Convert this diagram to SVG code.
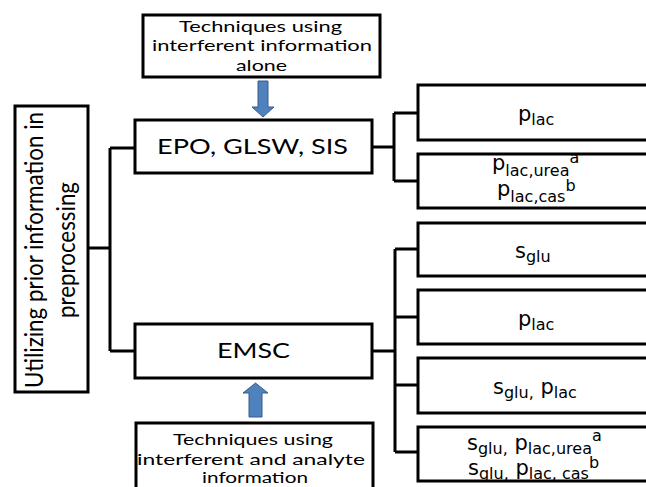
<svg xmlns="http://www.w3.org/2000/svg" width="646" height="487" viewBox="0 0 646 487">
<defs>
<style>
.box{fill:#fff;stroke:#000;stroke-width:3}
.con{fill:none;stroke:#000;stroke-width:3}
.arr{fill:#4F81BD;stroke:#385D8A;stroke-width:1}
.t{font-family:Lato,"Liberation Sans",sans-serif;fill:#000;text-anchor:middle}
.t16{font-size:16px}
.t22{font-size:22px}
.t25{font-size:25px}
.r{font-family:"DejaVu Sans","Liberation Sans",sans-serif;fill:#000}
.m{font-size:21px}
.s{font-size:16px}
</style>
</defs>
<rect width="646" height="487" fill="#fff"/>
<g id="connectors">
<path class="con" d="M88,248H110M110,148V351M110,148H135M110,351H135"/>
<path class="con" d="M372,147H394M394,113V181M394,113H418M394,181H418"/>
<path class="con" d="M372,351H395M395,249V452M395,249H418M395,317H418M395,385H418M395,452H418"/>
</g>
<g id="root">
<rect class="box" x="15" y="106" width="73" height="286"/>
<text class="t t25" transform="translate(43,250) rotate(-90)" textLength="276" lengthAdjust="spacingAndGlyphs">Utilizing prior information in</text>
<text class="t t25" transform="translate(75,250) rotate(-90)" textLength="136" lengthAdjust="spacingAndGlyphs">preprocessing</text>
</g>
<g id="top-techniques">
<rect class="box" x="143" y="15" width="237" height="62"/>
<text class="t t16" x="260.5" y="32" textLength="163" lengthAdjust="spacingAndGlyphs">Techniques using</text>
<text class="t t16" x="262" y="51" textLength="220" lengthAdjust="spacingAndGlyphs">interferent information</text>
<text class="t t16" x="261.5" y="71" textLength="51" lengthAdjust="spacingAndGlyphs">alone</text>
</g>
<g id="top-arrow">
<path class="arr" d="M258,81H268V107H274L263,117L252,107H258Z"/>
</g>
<g id="epo">
<rect class="box" x="135" y="120" width="237" height="53"/>
<text class="t t22" x="252.5" y="154" textLength="191" lengthAdjust="spacingAndGlyphs">EPO, GLSW, SIS</text>
</g>
<g id="emsc">
<rect class="box" x="135" y="324" width="237" height="54"/>
<text class="t t22" x="253.5" y="358" textLength="73" lengthAdjust="spacingAndGlyphs">EMSC</text>
</g>
<g id="bottom-arrow">
<path class="arr" d="M249,417V393H243L255.5,383L268,393H262V417Z"/>
</g>
<g id="bottom-techniques">
<rect class="box" x="136" y="423" width="237" height="80"/>
<text class="t t16" x="253" y="445" textLength="160" lengthAdjust="spacingAndGlyphs">Techniques using</text>
<text class="t t16" x="251" y="465" textLength="228" lengthAdjust="spacingAndGlyphs">interferent and analyte</text>
<text class="t t16" x="255" y="483" textLength="106" lengthAdjust="spacingAndGlyphs">information</text>
</g>
<g id="r1">
<rect class="box" x="418" y="85" width="245" height="55"/>
<text class="r"><tspan class="m" x="518" y="121">p</tspan><tspan class="s" dy="4">lac</tspan></text>
</g>
<g id="r2">
<rect class="box" x="418" y="154" width="245" height="54"/>
<text class="r"><tspan class="m" x="492" y="170">p</tspan><tspan class="s" dy="6">lac,urea</tspan><tspan class="s" dy="-13">a</tspan></text>
<text class="r"><tspan class="m" x="497" y="196">p</tspan><tspan class="s" dy="6">lac,cas</tspan><tspan class="s" dy="-11">b</tspan></text>
</g>
<g id="r3">
<rect class="box" x="418" y="223" width="245" height="53"/>
<text class="r"><tspan class="m" x="515" y="258">s</tspan><tspan class="s" dy="4">glu</tspan></text>
</g>
<g id="r4">
<rect class="box" x="418" y="290" width="245" height="54"/>
<text class="r"><tspan class="m" x="518" y="326">p</tspan><tspan class="s" dy="4">lac</tspan></text>
</g>
<g id="r5">
<rect class="box" x="418" y="358" width="245" height="55"/>
<text class="r"><tspan class="m" x="493" y="394">s</tspan><tspan class="s" dy="4">glu,</tspan><tspan class="m" dy="-4"> p</tspan><tspan class="s" dy="4">lac</tspan></text>
</g>
<g id="r6">
<rect class="box" x="418" y="427" width="245" height="54"/>
<text class="r"><tspan class="m" x="467" y="450">s</tspan><tspan class="s" dy="4">glu,</tspan><tspan class="m" dy="-4"> p</tspan><tspan class="s" dy="4">lac,urea</tspan><tspan class="s" dy="-13">a</tspan></text>
<text class="r"><tspan class="m" x="468" y="475">s</tspan><tspan class="s" dy="4">glu,</tspan><tspan class="m" dy="-4"> p</tspan><tspan class="s" dy="4">lac, cas</tspan><tspan class="s" dy="-11">b</tspan></text>
</g>
</svg>
